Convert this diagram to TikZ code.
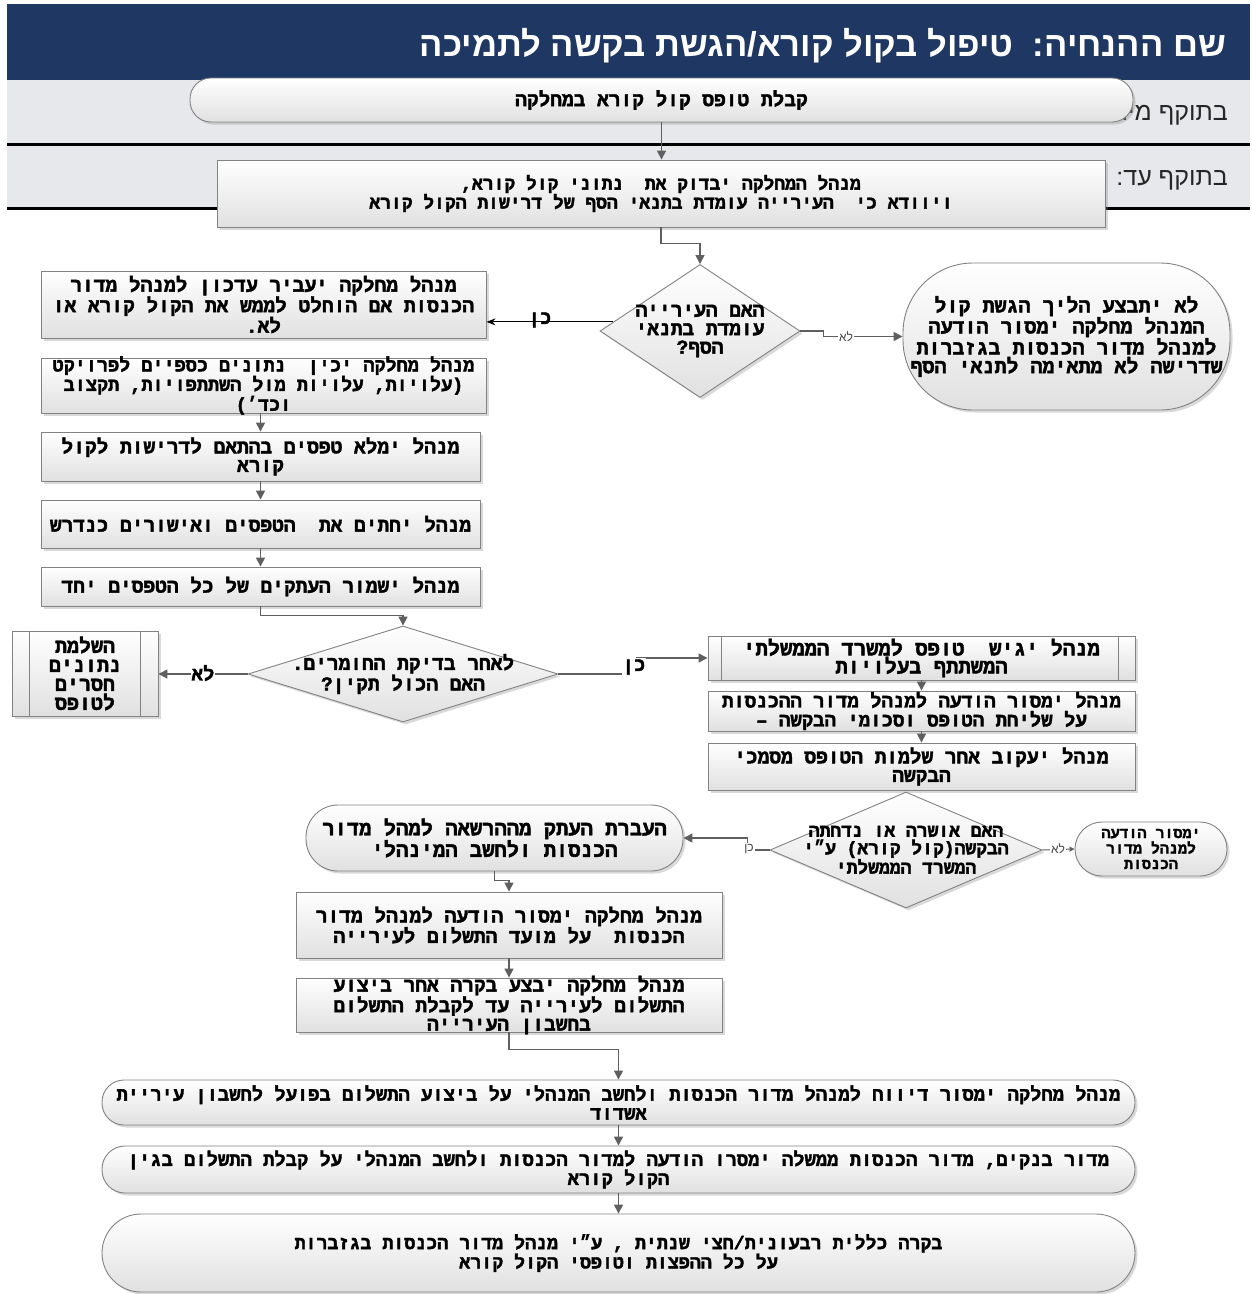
\documentclass[tikz,border=0pt]{standalone}
\usepackage{fontspec}
\setmainfont{Liberation Sans}
\newfontfamily\hs[Script=Hebrew]{Liberation Sans}
\newfontfamily\hb[Script=Hebrew, BoldFont={Liberation Mono Bold}, BoldFeatures={FakeBold=2}]{Liberation Mono}
\TeXXeTstate=1
\usetikzlibrary{shapes.geometric,arrows.meta,shadows,calc}
\newcommand{\F}[2]{\hb\bfseries\fontsize{#1}{#2}\selectfont}
\definecolor{headblue}{RGB}{31,55,99}
\definecolor{bandgray}{RGB}{231,232,235}
\definecolor{arrgray}{RGB}{95,95,95}
\definecolor{edgegray}{RGB}{130,130,130}
\definecolor{lblgray}{RGB}{70,70,70}
\tikzset{
  shp/.style={draw=edgegray, line width=0.9pt, top color=white, bottom color=black!12, inner sep=0pt,
     drop shadow={shadow xshift=2.5pt, shadow yshift=-2.5pt, opacity=0.3}},
  boxx/.style={shp, rectangle},
  pill/.style={shp, rectangle, rounded corners=#1},
  dia/.style={shp, diamond},
  txt/.style={align=center, text=black, inner sep=0pt, font=\F{19.5}{18.5}},
  arr/.style={draw=arrgray, line width=1.5pt, -{Triangle[length=9pt,width=9pt]}},
  sarr/.style={draw=arrgray, line width=1pt, -{Triangle[length=5pt,width=5pt]}},
  blk/.style={draw=black, line width=1.2pt, -{Stealth[length=9pt,width=7pt]}},
  lsmall/.style={font=\hs\fontsize{12}{12}\selectfont, text=lblgray, fill=white, inner sep=1pt},
  lbig/.style={font=\F{19}{19}, text=black, fill=white, inner sep=1pt},
  inner/.style={draw=edgegray, line width=0.9pt}
}
\begin{document}
\begin{tikzpicture}[x=1pt,y=-1pt]
\useasboundingbox (0,0) rectangle (1252,1294);
% header and bands
\fill[headblue] (7,4) rectangle (1250,80);
\fill[bandgray] (7,80) rectangle (1250,143);
\fill[bandgray] (7,146) rectangle (1250,207);
\draw[black, line width=2.5pt] (7,144.5) -- (1250,144.5);
\draw[black, line width=2.5pt] (7,208.5) -- (1250,208.5);
\node[anchor=east, text=white, font=\hs\bfseries\fontsize{34.6}{34.6}\selectfont, inner sep=0pt] (title) at (1226,46) {\beginR שם ההנחיה:\ \ טיפול בקול קורא/הגשת בקשה לתמיכה\endR};
\node[anchor=east, text=black!85, font=\hs\fontsize{25}{25}\selectfont, inner sep=0pt] (from) at (1228,115) {\beginR בתוקף מיום:\endR};
\node[anchor=east, text=black!85, font=\hs\fontsize{25}{25}\selectfont, inner sep=0pt] (until) at (1228,180) {\beginR בתוקף עד:\endR};

% top
\node[pill=21, minimum width=943, minimum height=44,
  label={[txt]center:{\beginR קבלת טופס קול קורא במחלקה\endR}}] (tp) at (661.5,100) {};
\node[boxx, minimum width=888, minimum height=67,
  label={[txt,font=\F{18}{17}]center:{\beginR מנהל המחלקה יבדוק את\ \ נתוני קול קורא,\endR\\\beginR ויוודא כי\ \ העירייה עומדת בתנאי הסף של דרישות הקול קורא\endR}}] (b2) at (661,193.5) {};
\node[dia, minimum width=200, minimum height=133,
  label={[txt]center:{\beginR האם העירייה\endR\\\beginR עומדת בתנאי\endR\\\beginR הסף?\endR}}] (d1) at (700,331) {};
\node[pill=70, minimum width=327, minimum height=147,
  label={[txt,font=\F{20}{18.7}]center:{\beginR לא יתבצע הליך הגשת קול\endR\\\beginR המנהל מחלקה ימסור הודעה\endR\\\beginR למנהל מדור הכנסות בגזברות\endR\\\beginR שדרישה לא מתאימה לתנאי הסף\endR}}] (e1) at (1066.5,336.5) {};

% left column
\node[boxx, minimum width=445, minimum height=67,
  label={[txt]center:{\beginR מנהל מחלקה יעביר עדכון למנהל מדור\endR\\\beginR הכנסות אם הוחלט לממש את הקול קורא או\endR\\\beginR לא.\endR}}] (b3) at (263.5,304.5) {};
\node[boxx, minimum width=445, minimum height=55,
  label={[txt,font=\F{18.5}{18.5}]center:{\beginR מנהל מחלקה יכין\ \ נתונים כספיים לפרויקט\endR\\\beginR (עלויות, עלויות מול השתתפויות, תקצוב\endR\\\beginR וכד׳)\endR}}] (b4) at (263.5,385.5) {};
\node[boxx, minimum width=439, minimum height=49,
  label={[txt]center:{\beginR מנהל ימלא טפסים בהתאם לדרישות לקול\endR\\\beginR קורא\endR}}] (b5) at (260.5,456.5) {};
\node[boxx, minimum width=439, minimum height=48,
  label={[txt]center:{\beginR מנהל יחתים את\ \ הטפסים ואישורים כנדרש\endR}}] (b6) at (260.5,524) {};
\node[boxx, minimum width=439, minimum height=39,
  label={[txt]center:{\beginR מנהל ישמור העתקים של כל הטפסים יחד\endR}}] (b7) at (260.5,586.5) {};
\node[dia, minimum width=310, minimum height=96,
  label={[txt]center:{\beginR לאחר בדיקת החומרים.\endR\\\beginR האם הכול תקין?\endR}}] (d2) at (403,674) {};
\node[boxx, minimum width=146, minimum height=85,
  label={[txt,font=\F{20}{19}]center:{\beginR השלמת\endR\\\beginR נתונים\endR\\\beginR חסרים\endR\\\beginR לטופס\endR}}] (b8) at (85,673.5) {};
\draw[inner] ([xshift=18pt]b8.north west) -- ([xshift=18pt]b8.south west);
\draw[inner] ([xshift=-18pt]b8.north east) -- ([xshift=-18pt]b8.south east);

% right column
\node[boxx, minimum width=427, minimum height=44,
  label={[txt,font=\F{20.5}{18}]center:{\beginR מנהל יגיש\ \ טופס למשרד הממשלתי\endR\\\beginR המשתתף בעלויות\endR}}] (r1) at (921.5,658) {};
\draw[inner] ([xshift=14pt]r1.north west) -- ([xshift=14pt]r1.south west);
\draw[inner] ([xshift=-17pt]r1.north east) -- ([xshift=-17pt]r1.south east);
\node[boxx, minimum width=427, minimum height=40,
  label={[txt,font=\F{19}{19}]center:{\beginR מנהל ימסור הודעה למנהל מדור ההכנסות\endR\\\beginR על שליחת הטופס וסכומי הבקשה –\endR}}] (r2) at (921.5,711) {};
\node[boxx, minimum width=427, minimum height=47,
  label={[txt]center:{\beginR מנהל יעקוב אחר שלמות הטופס מסמכי\endR\\\beginR הבקשה\endR}}] (r3) at (921.5,766.5) {};
\node[dia, minimum width=272, minimum height=116,
  label={[txt,font=\F{18}{17.5}]center:{\beginR האם אושרה או נדחתה\endR\\\beginR הבקשה(קול קורא) ע״י\endR\\\beginR המשרד הממשלתי\endR}}] (d3) at (906,850) {};
\node[pill=27, minimum width=152, minimum height=54,
  label={[txt,font=\F{15}{15.5}]center:{\beginR ימסור הודעה\endR\\\beginR למנהל מדור\endR\\\beginR הכנסות\endR}}] (s1) at (1151,849) {};
\node[pill=32, minimum width=377, minimum height=66,
  label={[txt,font=\F{20.5}{18}]center:{\beginR העברת העתק מההרשאה למהל מדור\endR\\\beginR הכנסות ולחשב המינהלי\endR}}] (p1) at (494.5,838) {};
\node[boxx, minimum width=426, minimum height=66,
  label={[txt]center:{\beginR מנהל מחלקה ימסור הודעה למנהל מדור\endR\\\beginR הכנסות\ \ על מועד התשלום לעירייה\endR}}] (b9) at (509,925) {};
\node[boxx, minimum width=426, minimum height=54,
  label={[txt]center:{\beginR מנהל מחלקה יבצע בקרה אחר ביצוע\endR\\\beginR התשלום לעירייה עד לקבלת התשלום\endR\\\beginR בחשבון העירייה\endR}}] (b10) at (509,1005) {};

% bottom
\node[pill=22, minimum width=1033, minimum height=45,
  label={[txt,font=\F{18.8}{19}]center:{\beginR מנהל מחלקה ימסור דיווח למנהל מדור הכנסות ולחשב המנהלי על ביצוע התשלום בפועל לחשבון עיריית\endR\\\beginR אשדוד\endR}}] (q1) at (618.5,1102.5) {};
\node[pill=23, minimum width=1033, minimum height=47,
  label={[txt,font=\F{18.8}{19}]center:{\beginR מדור בנקים, מדור הכנסות ממשלה ימסרו הודעה למדור הכנסות ולחשב המנהלי על קבלת התשלום בגין\endR\\\beginR הקול קורא\endR}}] (q2) at (618.5,1169.5) {};
\node[pill=39, minimum width=1033, minimum height=78,
  label={[txt,font=\F{18.3}{18}]center:{\beginR בקרה כללית רבעונית/חצי שנתית , ע״י מנהל מדור הכנסות בגזברות\endR\\\beginR על כל ההפצות וטופסי הקול קורא\endR}}] (q3) at (618.5,1253) {};

% connectors
\draw[arr] (tp.south) -- (tp.south |- b2.north);
\draw[arr] (b2.south) -- ++(0,16) -| (d1.north);
\draw[blk] (d1.174) -- (d1.174 -| b3.east);
\node[font=\F{19}{19}, text=black, inner sep=0pt] (ken1) at (540,320) {\beginR כן\endR};
\draw[arr] (d1.east) -- ++(23,0) |- (e1.west);
\node[lsmall] (lo1) at (846,336.5) {\beginR לא\endR};

\draw[arr] (b4.south -| b5.north) -- (b5.north);
\draw[arr] (b5.south) -- (b6.north);
\draw[arr] (b6.south) -- (b7.north);
\draw[arr] (b7.south) -- ++(0,9) -| (d2.north);
\draw[arr] (d2.west) -- (d2.west -| b8.east);
\node[lbig] (lo2) at (203,673) {\beginR לא\endR};
\draw[arr] (d2.east) -- ++(78,0) |- (r1.west);
\node[lbig] (ken2) at (634,667) {\beginR כן\endR};

\draw[arr] (r1.south) -- (r2.north);
\draw[arr] (r2.south) -- (r3.north);
\draw[sarr] (d3.east) -- (s1.west);
\node[lsmall] (lo3) at (1058,849) {\beginR לא\endR};
\draw[arr] (d3.west) -- ++(-22,0) |- (p1.east);
\node[lsmall] (ken3) at (749,849) {\beginR כן\endR};

\draw[arr] (p1.south) -- ++(0,9) -| (b9.north);
\draw[arr] (b9.south) -- (b10.north);
\draw[arr] (b10.south) -- ++(0,17) -| (q1.north);
\draw[arr] (q1.south) -- (q2.north);
\draw[arr] (q2.south) -- (q3.north);
\end{tikzpicture}
\end{document}
